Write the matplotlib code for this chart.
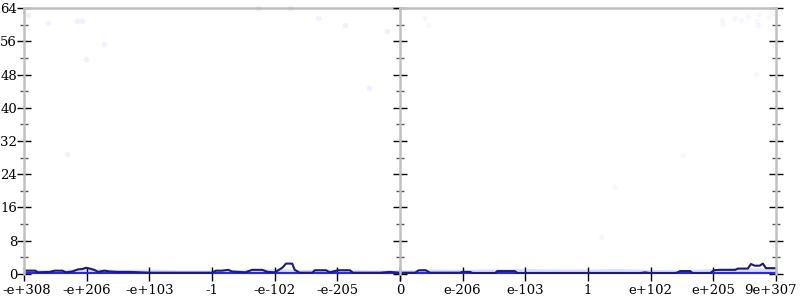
import numpy as np
import matplotlib
matplotlib.use("Agg")
from matplotlib import pyplot as plt
from matplotlib.ticker import MultipleLocator
from matplotlib.transforms import ScaledTranslation

plt.rcParams['font.family'] = ['DejaVu Serif']

# x positions are ordinal slots on the float axis (0 .. 12)
tick_pos = list(range(13))
tick_labels = ["-e+308", "-e+206", "-e+103", "-1", "-e-102", "-e-205", "0",
               "e-206", "e-103", "1", "e+102", "e+205", "9e+307"]

# running average of bits of error
avg_x = [0.00, 0.18, 0.22, 0.41, 0.49, 0.61, 0.67, 0.77, 0.86, 0.93, 0.99, 1.05,
         1.12, 1.18, 1.28, 1.37, 1.50, 1.69, 2.01, 2.81, 3.00, 3.06, 3.16, 3.26,
         3.32, 3.53, 3.64, 3.80, 3.89, 4.00, 4.07, 4.13, 4.18, 4.28, 4.32, 4.40,
         4.60, 4.64, 4.82, 4.88, 5.01, 5.20, 5.25, 5.68, 5.84, 6.00, 6.24, 6.30,
         6.41, 6.48, 6.96, 6.99, 7.12, 7.16, 7.52, 7.55, 7.83, 7.88, 9.83, 9.91,
         9.99, 10.40, 10.47, 10.63, 10.67, 10.95, 11.01, 11.10, 11.35, 11.39,
         11.55, 11.60, 11.66, 11.74, 11.79, 11.84, 12.00]
avg_y = [0.8, 0.8, 0.4, 0.5, 0.8, 0.8, 0.4, 0.6, 1.1, 1.2, 1.5, 1.3,
         1.0, 0.5, 0.8, 0.6, 0.5, 0.5, 0.3, 0.3, 0.3, 0.8, 0.8, 1.0,
         0.6, 0.4, 1.0, 1.0, 0.5, 0.4, 1.0, 1.6, 2.5, 2.5, 1.0, 0.3,
         0.3, 0.9, 0.9, 0.4, 0.9, 0.9, 0.3, 0.3, 0.5, 0.3, 0.3, 0.9,
         0.9, 0.3, 0.3, 0.5, 0.5, 0.2, 0.2, 0.7, 0.7, 0.2, 0.2, 0.4,
         0.2, 0.2, 0.7, 0.7, 0.2, 0.2, 0.9, 1.0, 1.0, 1.3,
         1.3, 2.4, 2.0, 2.0, 2.5, 1.4, 1.4]

# haze of low-error samples near the bottom
band_x = [0, 0.5, 1, 1.5, 2, 2.5, 3, 3.5, 4, 4.5, 5, 5.5, 6, 6.5, 7, 7.5, 8,
          8.5, 9, 9.5, 10, 10.5, 11, 11.5, 12]
band_y = [1.2, 1.0, 1.4, 1.1, 1.2, 1.0, 1.0, 1.1, 1.3, 1.1, 1.2, 1.0, 1.0, 1.2,
          1.1, 1.2, 1.3, 1.2, 1.2, 1.3, 1.1, 1.0, 1.3, 1.5, 1.4]

# sparse high-error samples
pts_x = [0.06, 0.38, 0.85, 0.93, 0.99, 1.28, 0.69, 5.79, 6.38, 6.45, 5.50, 3.73,
         4.24, 4.69, 5.12, 11.14, 11.15, 11.35, 11.44, 11.55, 11.70, 11.73, 11.71,
         11.89, 11.95, 11.68, 10.52, 9.43, 9.21]
pts_y = [62.3, 60.4, 60.9, 60.9, 51.7, 55.3, 28.9, 58.5, 61.6, 59.9, 44.8, 64.0,
         64.0, 61.6, 59.9, 61.1, 60.2, 61.6, 61.1, 62.1, 60.9, 62.6, 59.9,
         61.8, 62.8, 48.1, 28.6, 20.9, 8.9]

fig = plt.figure(figsize=(8, 3), dpi=100)
ax1 = fig.add_axes([0.03, 0.0867, 0.47, 0.8866])
ax2 = fig.add_axes([0.50, 0.0867, 0.47, 0.8866])

for ax, lo, hi in [(ax1, 0, 6), (ax2, 6, 12)]:
    ax.fill_between(band_x, 0, band_y, color="#3344ff", alpha=0.18, lw=0)
    ax.scatter(pts_x, pts_y, s=16, color="#3344ff", alpha=0.035, lw=0, clip_on=False)
    ax.plot([0, 12], [0, 0], color="#2a2ad8", lw=3, solid_capstyle="butt")
    ax.plot(avg_x, avg_y, color="#1c1c70", lw=1.5)
    ax.set_xlim(lo, hi)
    ax.set_ylim(0, 64)
    ax.yaxis.set_major_locator(MultipleLocator(8))
    ax.yaxis.set_minor_locator(MultipleLocator(4))
    ax.set_xticks([p for p in tick_pos if lo <= p <= hi])
    ax.set_xticklabels([tick_labels[p] for p in tick_pos if lo <= p <= hi], fontsize=9.5)
    ax.spines["bottom"].set_visible(False)
    for s in ["left", "right", "top"]:
        ax.spines[s].set_color("#c0c0c0")
        ax.spines[s].set_linewidth(1.8)
    ax.tick_params(axis="x", direction="inout", length=10, width=1, color="black", pad=2)
    ax.tick_params(axis="y", which="major", direction="inout", length=10, width=1,
                   color="black", labelsize=9.5, pad=0)
    ax.tick_params(axis="y", which="minor", direction="inout", length=6, width=1,
                   color="#555555")

ax1.spines["right"].set_visible(False)
ax1.tick_params(axis="y", which="both", left=True, right=False)
ax2.tick_params(axis="y", which="both", left=True, right=True, labelleft=False)
ax2.set_xticklabels([""] + tick_labels[7:], fontsize=9.5)

# keep the end labels inside the canvas
first = ax1.get_xticklabels()[0]
first.set_transform(first.get_transform() + ScaledTranslation(3 / 100, 0, fig.dpi_scale_trans))
last = ax2.get_xticklabels()[-1]
last.set_transform(last.get_transform() + ScaledTranslation(-6 / 100, 0, fig.dpi_scale_trans))

fig.savefig("out.png", dpi=100)
